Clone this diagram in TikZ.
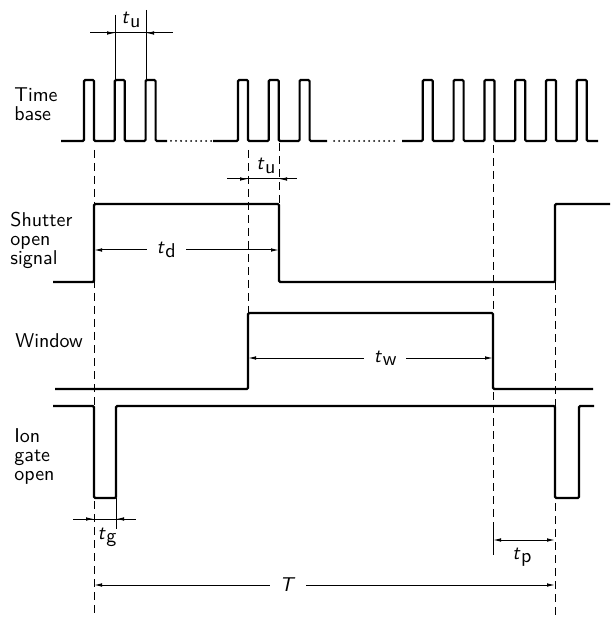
\documentclass[tikz,border=0pt]{standalone}
\usepackage{amsmath}
\usetikzlibrary{arrows.meta}

\newcommand{\tlab}[1]{\textit{t}\kern0.3pt\raisebox{-1.6pt}{#1}}

\begin{document}
\begin{tikzpicture}[
            x=0.5pt,
            y=-0.5pt,
            wave/.style={
                line width=1.1pt,
                rounded corners=0.6pt
            },
            guide/.style={
                line width=0.45pt,
                dash pattern=on 4pt off 2.5pt
            },
            dots/.style={
                line width=1pt,
                line cap=round,
                dash pattern=on 0pt off 2.5pt
            },
            dim/.style={
                line width=0.5pt
            },
            dimtip/.style={
                line width=0.5pt,
                -{Latex[length=4pt,width=1.8pt]}
            },
            dimboth/.style={
                line width=0.5pt,
                {Latex[length=4pt,width=1.8pt]}-{Latex[length=4pt,width=1.8pt]}
            },
            sig/.style={
                anchor=north west,
                inner sep=0pt,
                align=left,
                font=\sffamily\fontsize{10}{9.5}\selectfont
            },
            tlabel/.style={
                inner sep=1pt,
                font=\sffamily\fontsize{10}{12}\selectfont
            },
            gap/.style={
                tlabel,
                fill=white,
                inner xsep=5pt
            }
        ]
            \useasboundingbox (0,0) rectangle (610,619);

            % signal names
            \node[sig] (base) at (14,87) {Time\\base};
            \node[sig] (shutter) at (10,212) {Shutter\\open\\signal};
            \node[sig] (window) at (15,333) {Window};
            \node[sig] (gate) at (14,428) {Ion\\gate\\open};

            % time base
            \draw[wave] (61,141) foreach \k in {0,1,2} {
                -- ({84+30.8*\k},141) -- ++(0,-61) -- ++(10,0) -- ++(0,61)
            } -- (167,141);
            \draw[wave] (213,141) foreach \k in {5,6,7} {
                -- ({84+30.8*\k},141) -- ++(0,-61) -- ++(10,0) -- ++(0,61)
            } -- (327,141);
            \draw[wave] (402,141) foreach \k in {11,...,16} {
                -- ({84+30.8*\k},141) -- ++(0,-61) -- ++(10,0) -- ++(0,61)
            } -- (598,141);
            \draw[dots] (171,141) -- (211,141);
            \draw[dots] (334,141) -- (398,141);

            % shutter, window, ion gate
            \draw[wave] (53,282) -- (94,282) -- (94,204) -- (279,204) -- (279,282)
                -- (555,282) -- (555,204) -- (610,204);
            \draw[wave] (55,389) -- (248,389) -- (248,313) -- (493,313) -- (493,389)
                -- (593,389);
            \draw[wave] (53,406) -- (94,406) -- (94,498) -- (116,498) -- (116,406)
                -- (555,406) -- (555,498) -- (579,498) -- (579,406) -- (594,406);

            % dashed guides
            \draw[guide] (94,150) -- (94,617);
            \draw[guide] (248,150) -- (248,313);
            \draw[guide] (279,143) -- (279,204);
            \draw[guide] (493,145) -- (493,530);
            \draw[guide] (555,282) -- (555,617);

            % t_u at the top
            \coordinate (ua) at (115,33);
            \coordinate (ub) at (146,33);
            \draw[dim] (115,15) -- (115,80);
            \draw[dim] (146,10) -- (146,80);
            \draw[dim] (90,33) -- (173,33);
            \draw[dimtip] (98,33) -- (ua);
            \draw[dimtip] (163,33) -- (ub);
            \node[tlabel] (tu1) at (131,20) {\tlab{u}};

            % t_u below the time base
            \coordinate (uc) at (248,179);
            \coordinate (ud) at (279,179);
            \draw[dim] (227,179) -- (297,179);
            \draw[dimtip] (231,179) -- (uc);
            \draw[dimtip] (295,179) -- (ud);
            \node[tlabel] (tu2) at (266,166) {\tlab{u}};

            % t_d and t_w
            \coordinate (da) at (94,250);
            \coordinate (db) at (279,250);
            \draw[dimboth] (da) -- node[gap,pos=.39] (td) {\tlab{d}} (db);
            \coordinate (wa) at (248,358);
            \coordinate (wb) at (493,358);
            \draw[dimboth] (wa) -- node[gap,pos=.56] (tw) {\tlab{w}} (wb);

            % t_g
            \coordinate (ga) at (94,519);
            \coordinate (gb) at (116,519);
            \draw[dim] (116,498) -- (116,529);
            \draw[dim] (73,519) -- (136,519);
            \draw[dimtip] (77,519) -- (ga);
            \draw[dimtip] (133,519) -- (gb);
            \node[tlabel] (tg) at (107,537) {\tlab{g}};

            % t_p
            \coordinate (pa) at (493,540);
            \coordinate (pb) at (555,540);
            \draw[dim] (493,530) -- (493,555);
            \draw[dimboth] (pa) -- (pb);
            \node[tlabel] (tp) at (522,557) {\tlab{p}};

            % period T
            \coordinate (Ta) at (94,585);
            \coordinate (Tb) at (555,585);
            \draw[dimboth] (Ta) -- node[gap,pos=.42] (T) {\textit{T}} (Tb);
        \end{tikzpicture}
\end{document}
